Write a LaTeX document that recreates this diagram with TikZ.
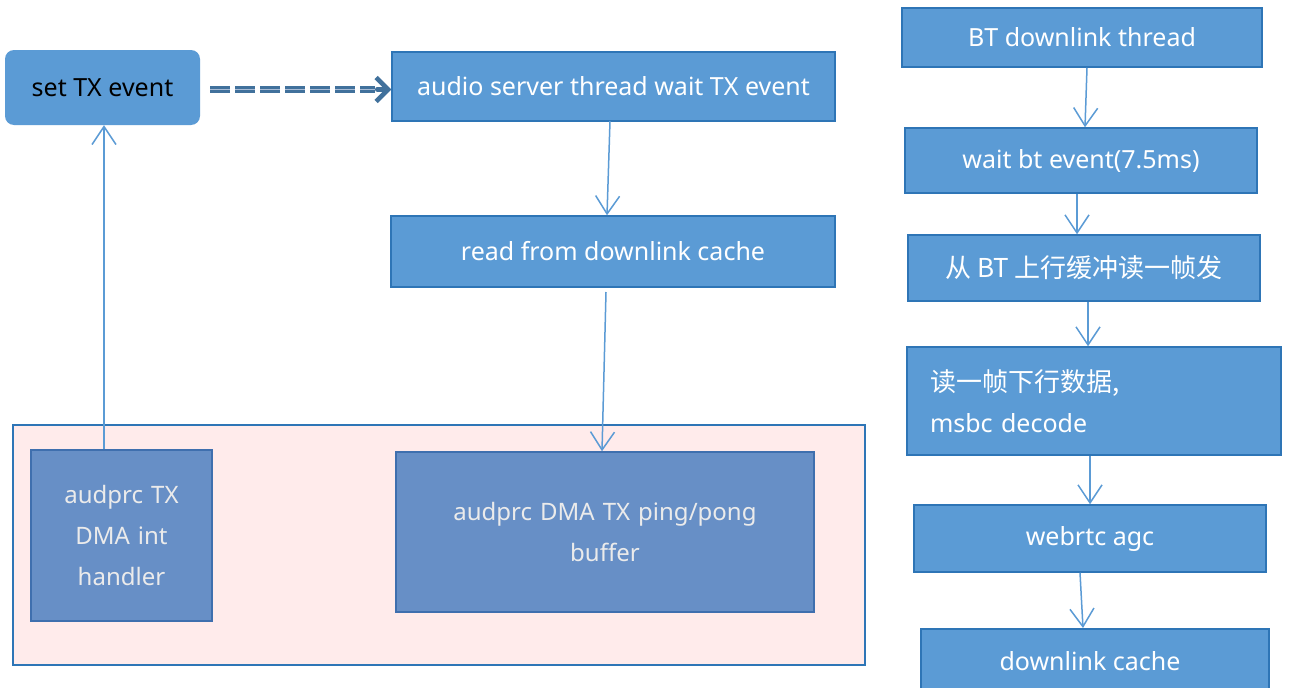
\documentclass[tikz,border=0pt]{standalone}
\usepackage{fontspec}
\setmainfont{Noto Sans}
\newfontfamily\cjk{Noto Sans CJK SC}
\usetikzlibrary{arrows.meta,calc}

\definecolor{boxfill}{HTML}{5B9BD5}
\definecolor{boxline}{HTML}{2E75B6}
\definecolor{dmafill}{HTML}{678FC6}
\definecolor{dmaline}{HTML}{3F6FAE}
\definecolor{pinkfill}{HTML}{FFEBEB}
\definecolor{dashcol}{HTML}{41719C}
\definecolor{dashmid}{HTML}{A9BCD6}

\tikzset{
  stepbox/.style={draw=boxline, line width=1.5pt, fill=boxfill, text=white,
    font=\fontsize{25}{41}\selectfont, inner sep=0pt},
  dmabox/.style={draw=dmaline, line width=1.5pt, fill=dmafill, text=white!92!black,
    font=\fontsize{24}{41}\selectfont, inner sep=0pt, align=center},
  flow/.style={draw=boxfill, line width=1.5pt,
    -{Straight Barb[length=18pt,width=24pt,line width=1.5pt]}},
}

\begin{document}
\begin{tikzpicture}[x=1pt,y=-1pt]
  \useasboundingbox[fill=white] (0,0) rectangle (1291,688);

  % left part
  \draw[draw=boxline, line width=1.5pt, fill=pinkfill] (13,425) rectangle (865,665);

  \node[fill=boxfill, rounded corners=9pt, minimum width=195pt, minimum height=75pt,
        font=\fontsize{25}{30}\selectfont, inner sep=0pt] (settx) at (102.5,87.5) {set TX event};
  \node[stepbox, minimum width=443pt, minimum height=69pt] (server) at (613.5,86.5)
        {audio server thread wait TX event};
  \node[stepbox, minimum width=444pt, minimum height=71pt] (readcache) at (613,251.5)
        {read from downlink cache};

  \node[dmabox, minimum width=181pt, minimum height=171pt, text width=170pt] (handler) at (121.5,535.5)
        {audprc TX\\DMA int\\handler};
  \node[dmabox, minimum width=418pt, minimum height=160pt, text width=400pt] (pingpong) at (605,532)
        {audprc DMA TX ping/pong\\buffer};

  \coordinate (dashstart) at ($(settx.east)+(10,2)$);
  \draw[dashcol, line width=3.5pt, double=dashmid, double distance=0.8pt,
        dash pattern=on 20pt off 5pt, shorten >=16pt] (dashstart) -- (server.west |- dashstart);
  \draw[dashcol, line width=4.5pt, line cap=round,
        -{Straight Barb[length=12pt,width=24pt,line width=4.5pt]}]
        ($(server.west |- dashstart)+(-14,0)$) -- (server.west |- dashstart);

  \draw[flow] (610,121) -- (readcache.north -| 607,0);
  \draw[flow] (606,292) -- (pingpong.north -| 602,0);
  \draw[flow] (handler.north -| 104,0) -- (settx.south -| 104,0);

  % right part
  \node[stepbox, minimum width=360pt, minimum height=59pt] (btthread) at (1082,37.5)
        {BT downlink thread};
  \node[stepbox, minimum width=352pt, minimum height=65pt] (btevent) at (1081,160.5)
        {wait bt event(7.5ms)};
  \node[stepbox, minimum width=352pt, minimum height=66pt, font=\cjk\fontsize{26}{41}\selectfont]
        (upread) at (1084,268) {从 BT 上行缓冲读一帧发};
  \node[stepbox, minimum width=374pt, minimum height=108pt, text width=328pt, align=left]
        (decode) at (1094,401) {{\cjk\fontsize{26}{41}\selectfont 读一帧下行数据,}\\msbc decode};
  \node[stepbox, minimum width=352pt, minimum height=67pt] (agc) at (1090,538.5)
        {webrtc agc};
  \node[stepbox, minimum width=348pt, minimum height=120pt, anchor=north] (dlcache) at (1095,628)
        {};
  \node[text=white, font=\fontsize{25}{30}\selectfont] at (1090,661) {downlink cache};

  \draw[flow] (btthread.south -| 1087,0) -- (btevent.north -| 1085,0);
  \draw[flow] (btevent.south -| 1077,0) -- (upread.north -| 1077,0);
  \draw[flow] (upread.south -| 1088,0) -- (decode.north -| 1088,0);
  \draw[flow] (decode.south -| 1090,0) -- (agc.north -| 1090,0);
  \draw[flow] (agc.south -| 1080,0) -- (dlcache.north -| 1083,0);
\end{tikzpicture}
\end{document}
